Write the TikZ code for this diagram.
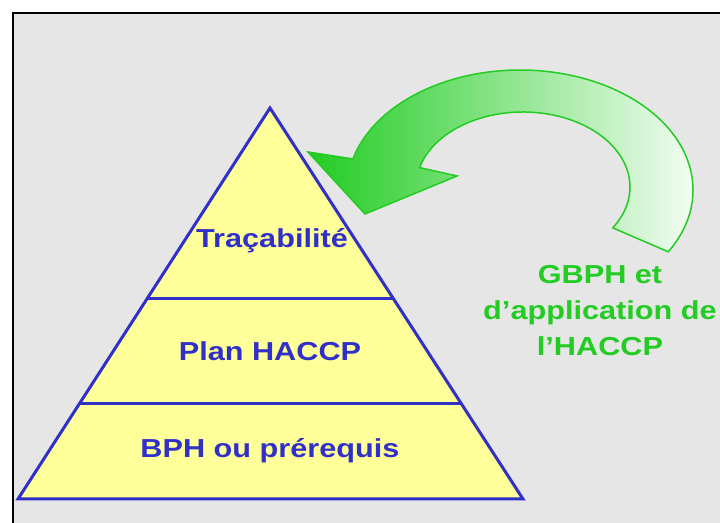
\documentclass[tikz,border=0pt]{standalone}
\usepackage{fontspec}
\usepackage{tikz}
\usetikzlibrary{calc}
\newfontfamily\pyrfont{Liberation Sans}[FakeStretch=1.18]
\definecolor{pyrblue}{HTML}{3030C8}
\definecolor{pyryellow}{HTML}{FFFF99}
\definecolor{loopgreen}{HTML}{22CC22}
\definecolor{panelgray}{HTML}{E6E6E6}

\begin{document}
\begin{tikzpicture}[x=1pt, y=1pt,
  font=\pyrfont\bfseries\fontsize{26}{36}\selectfont,
  level/.style={text=pyrblue, anchor=base},
  edge/.style={draw=pyrblue, line width=3pt},
  loop/.style={draw=loopgreen, line width=1.5pt, left color=loopgreen,
               middle color=loopgreen!30, right color=white}
]
\useasboundingbox (0,0) rectangle (720,522);
\clip (0,0) rectangle (720,522);
\fill[white] (0,0) rectangle (720,522);
\draw[fill=panelgray, line width=2pt] (13,-20) rectangle (740,509);

\coordinate (apex) at (270,414);
\coordinate (bl) at (18,23);
\coordinate (br) at (523,23);
\filldraw[edge, fill=pyryellow] (apex) -- (bl) -- (br) -- cycle;
\draw[edge] ($(apex)!0.4885!(bl)$) -- ($(apex)!0.4885!(br)$);
\draw[edge] ($(apex)!0.7545!(bl)$) -- ($(apex)!0.7545!(br)$);

\node[level] (trac) at (272,274) {Traçabilité};
\node[level] (plan) at (270,161) {Plan HACCP};
\node[level] (bph) at (270,64) {BPH ou prérequis};

\coordinate (oc) at (520,332);
\coordinate (ic) at (523,335);
\filldraw[loop] ([shift={(-31:173 and 120)}]oc)
  arc[start angle=-31, end angle=165, x radius=173, y radius=120]
  -- (308,370) -- (365,308) -- (457,346)
  -- ([shift={(165:107 and 75)}]ic)
  arc[start angle=165, end angle=-33, x radius=107, y radius=75] -- cycle;

\node[text=loopgreen, align=center, anchor=base] (gbph) at (600,166)
  {GBPH et\\d’application de\\l’HACCP};
\end{tikzpicture}
\end{document}
